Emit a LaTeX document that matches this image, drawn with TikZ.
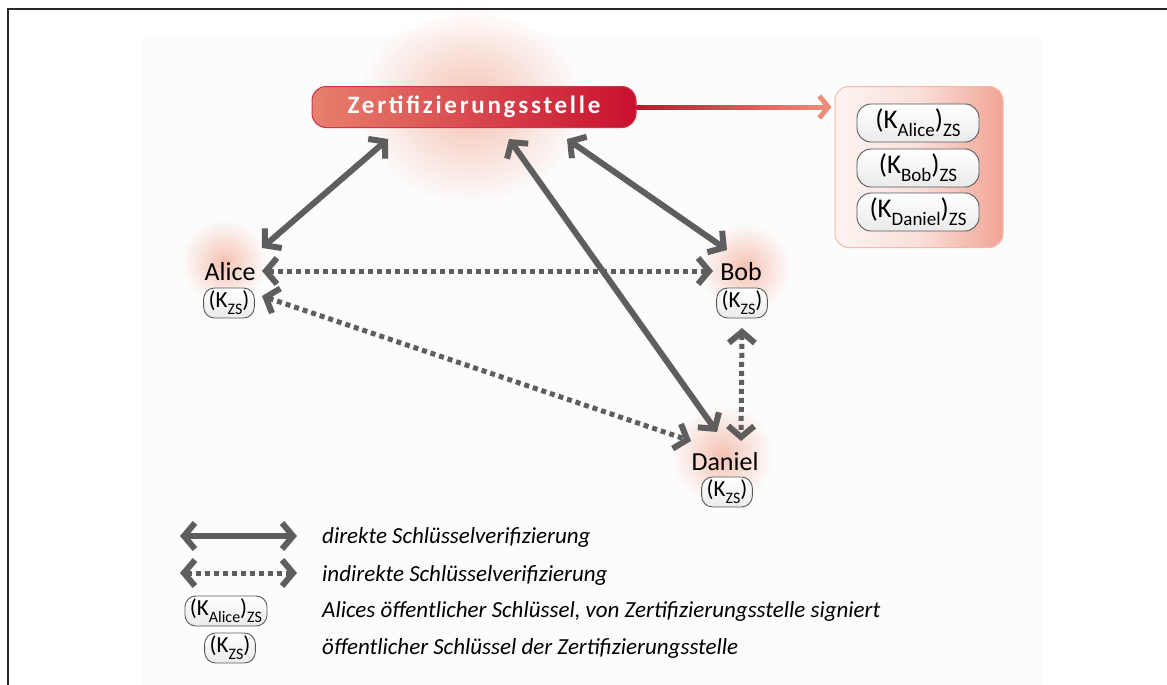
\documentclass[tikz,border=0pt]{standalone}
\usepackage{fontspec}
\setmainfont{Carlito}
\newfontfamily\zsfont[LetterSpace=11]{Carlito}
\usetikzlibrary{arrows.meta,calc,fadings}
\definecolor{zsl}{HTML}{E8806E}
\definecolor{zsr}{HTML}{C8102E}
\definecolor{arrgray}{HTML}{5E5E5E}
\definecolor{glowc}{HTML}{F08868}
\definecolor{boxr}{HTML}{F0A494}
\definecolor{boxborder}{HTML}{F3B8A8}
\definecolor{arrr}{HTML}{EE8C7C}
\newcommand\lowsub[2]{\raisebox{-0.3em}{\fontsize{#1}{#1}\selectfont #2}}
\tikzfading[name=glowfade, inner color=transparent!50, outer color=transparent!100]
\tikzset{
  conn/.style={arrgray, line width=6pt,
    {Straight Barb[length=11pt,width=26pt,line width=6pt]}-{Straight Barb[length=11pt,width=26pt,line width=6pt]}},
  dconn/.style={conn, line width=5pt, dash pattern=on 5pt off 4pt},
  pill/.style={draw=black!65, line width=0.9pt, rounded corners=11pt, top color=white,
    bottom color=black!8, minimum height=30pt, inner xsep=5pt, inner ysep=0pt,
    font=\fontsize{23}{23}\selectfont},
  bigpill/.style={pill, rounded corners=14pt, minimum height=38pt, minimum width=122pt,
    font=\fontsize{27}{27}\selectfont},
  person/.style={inner sep=0pt, font=\fontsize{26}{26}\selectfont},
  legtext/.style={anchor=west, inner sep=0pt, font=\fontsize{23}{23}\selectfont\itshape},
  glow/.style={glowc, path fading=glowfade}
}
\begin{document}
\begin{tikzpicture}[x=1pt,y=-1pt]
\useasboundingbox (0,0) rectangle (1167,685);
% frame and panel
\fill[black!1.2] (142,35) rectangle (1042,685);
\draw[line width=2pt, black!85] (8,685) -- (8,9) -- (1167,9);
% glows
\fill[glow] (470,105) ellipse [x radius=112, y radius=98];
\fill[glow] (224,262) ellipse [x radius=42, y radius=42];
\fill[glow] (745,268) ellipse [x radius=45, y radius=45];
\fill[glow] (722,455) ellipse [x radius=50, y radius=50];
% certification authority
\node[draw=zsr!85, line width=1pt, rounded corners=14pt, left color=zsl, right color=zsr,
  minimum width=324pt, minimum height=41pt, text=white,
  font=\fontsize{25}{25}\selectfont\zsfont\bfseries] (zs) at (474,107) {Zertifizierungsstelle};
% store box
\node[draw=boxborder, line width=1pt, rounded corners=14pt, left color=boxr!12,
  right color=boxr, middle color=boxr!35, minimum width=168pt, minimum height=161pt] (store) at (919,167) {};
\node[bigpill] (kA) at (918,123) {(K\lowsub{19}{Alice})\lowsub{19}{ZS}};
\node[bigpill] (kB) at (918,168) {(K\lowsub{19}{Bob})\lowsub{19}{ZS}};
\node[bigpill] (kD) at (918,212) {(K\lowsub{19}{Daniel})\lowsub{19}{ZS}};
% arrow to store
\coordinate (st) at (store.west|-zs.east);
\shade[left color=zsr, right color=arrr] ($(zs.east)+(0,-2)$) rectangle ($(st)+(-10,2)$);
\draw[arrr, line width=4pt, -{Straight Barb[length=9pt,width=22pt,line width=5pt]}] ($(st)+(-16,0)$) -- ($(st)+(-3,0)$);
% persons
\node[person] (alice) at (230,272) {Alice};
\node[pill] (aK) at (229,303) {(K\lowsub{16}{ZS})};
\node[person] (bob) at (741,272) {Bob};
\node[pill] (bK) at (742,303) {(K\lowsub{16}{ZS})};
\node[person] (daniel) at (725,462) {Daniel};
\node[pill] (dK) at (727,492) {(K\lowsub{16}{ZS})};
% connectors
\draw[conn] ($(alice)+(32,-24)$) -- ($(zs)+(-86,32)$);
\draw[conn] ($(zs)+(93,32)$) -- ($(bob)+(-14,-22)$);
\draw[conn] ($(zs)+(35,32)$) -- ($(daniel)+(-8,-30)$);
\draw[dconn] ($(alice)+(32,-1)$) -- ($(bob)+(-28,-1)$);
\draw[dconn] ($(alice)+(32,24)$) -- ($(daniel)+(-34,-21)$);
\draw[dconn] ($(bK)+(0,25)$) -- ($(daniel)+(16,-21)$);
% legend
\coordinate (l1a) at (180,536); \coordinate (l1b) at (297,536);
\coordinate (l2a) at (180,573); \coordinate (l2b) at (297,573);
\draw[conn] (l1a) -- (l1b);
\draw[dconn] (l2a) -- (l2b);
\node[pill] (lk1) at (226,611) {(K\lowsub{16}{Alice})\lowsub{16}{ZS}};
\node[pill] (lk2) at (230,648) {(K\lowsub{16}{ZS})};
\node[legtext] (t1) at (322,537) {direkte Schlüsselverifizierung};
\node[legtext] (t2) at (322,575) {indirekte Schlüsselverifizierung};
\node[legtext] (t3) at (322,611) {Alices öffentlicher Schlüssel, von Zertifizierungsstelle signiert};
\node[legtext] (t4) at (322,648) {öffentlicher Schlüssel der Zertifizierungsstelle};
\end{tikzpicture}
\end{document}
